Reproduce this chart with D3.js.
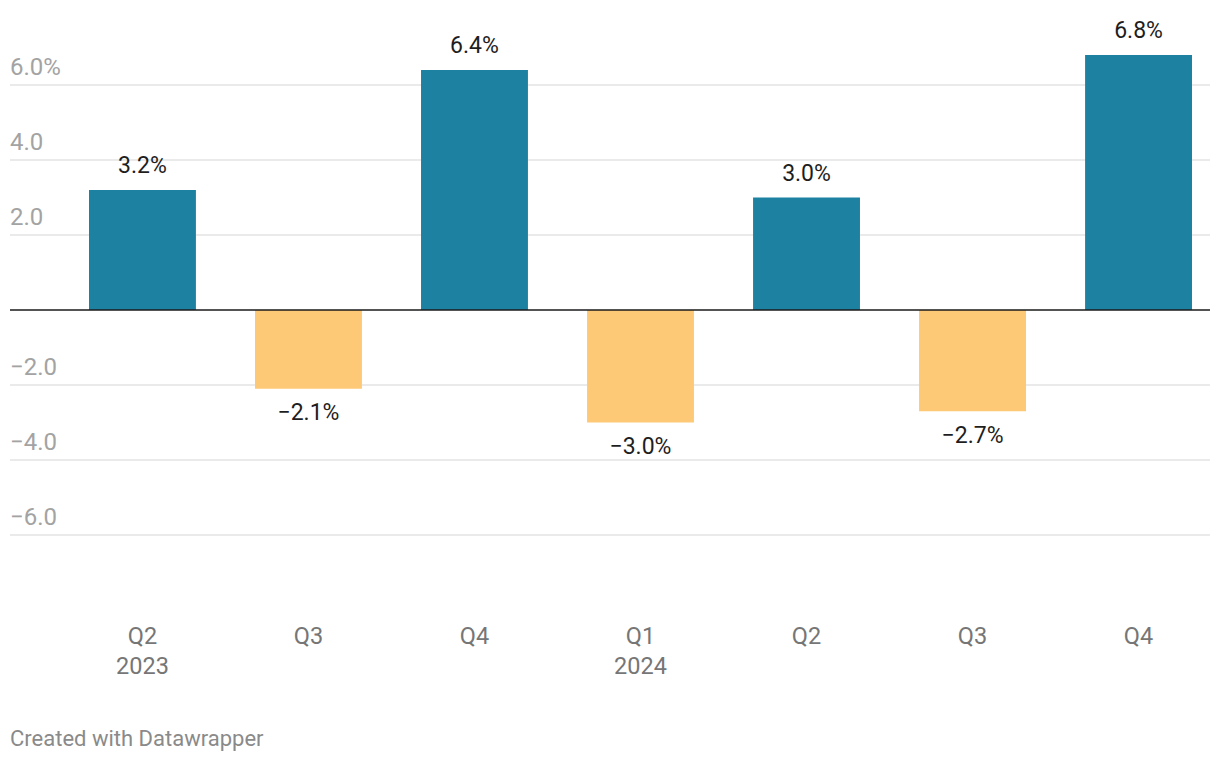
<!DOCTYPE html>
<html>
<head>
<meta charset="utf-8">
<script src="https://cdn.jsdelivr.net/npm/d3@7/dist/d3.min.js"></script>
<style>
  html, body { margin: 0; padding: 0; background: #fff; }
  svg { display: block; font-family: Roboto, "Noto Sans", sans-serif; }
</style>
</head>
<body>
<svg id="chart" width="1220" height="762"></svg>
<script>
const categories = ["Q2 2023", "Q3 2023", "Q4 2023", "Q1 2024", "Q2 2024", "Q3 2024", "Q4 2024"];
const quarterLabels = ["Q2", "Q3", "Q4", "Q1", "Q2", "Q3", "Q4"];
const yearLabels = ["2023", "", "", "2024", "", "", ""];
const values = [3.2, -2.1, 6.4, -3.0, 3.0, -2.7, 6.8];
const yTicks = [-6, -4, -2, 2, 4, 6];
const yTickLabels = ["−6.0", "−4.0", "−2.0", "2.0", "4.0", "6.0%"];

const svg = d3.select("#chart");

const y = d3.scaleLinear().domain([-6, 6]).range([535, 85]);
const x = d3.scaleBand().domain(categories).range([89, 1192]).paddingInner(0.356).paddingOuter(0);

const fmt = v => (v < 0 ? "−" : "") + Math.abs(v).toFixed(1) + "%";

// gridlines
const grid = svg.append("g");
grid.selectAll("line").data(yTicks).join("line")
  .attr("x1", 10).attr("x2", 1210)
  .attr("y1", d => y(d)).attr("y2", d => y(d))
  .attr("stroke", "#e3e3e3").attr("stroke-width", 1.3);
grid.selectAll("text").data(yTicks).join("text")
  .attr("x", 10).attr("y", d => y(d) - 10.5)
  .attr("fill", "#a3a3a3").attr("font-size", 24)
  .text((d, i) => yTickLabels[i]);

// bars
svg.append("g").selectAll("rect").data(values).join("rect")
  .attr("x", (d, i) => x(categories[i]))
  .attr("width", x.bandwidth())
  .attr("y", d => d >= 0 ? y(d) : y(0))
  .attr("height", d => Math.abs(y(d) - y(0)))
  .attr("fill", d => d >= 0 ? "#1d81a2" : "#fec976");

// zero line
svg.append("line")
  .attr("x1", 10).attr("x2", 1210)
  .attr("y1", y(0)).attr("y2", y(0))
  .attr("stroke", "#1a1a1a").attr("stroke-width", 1.5);

// value labels
svg.append("g").selectAll("text").data(values).join("text")
  .attr("x", (d, i) => x(categories[i]) + x.bandwidth() / 2)
  .attr("y", d => d >= 0 ? y(d) - 17 : y(d) + 31.5)
  .attr("text-anchor", "middle")
  .attr("fill", "#1e1e1e").attr("font-size", 23)
  .text(fmt);

// x labels
const xl = svg.append("g").selectAll("text").data(categories).join("text")
  .attr("text-anchor", "middle")
  .attr("fill", "#767676").attr("font-size", 23.5)
  .attr("x", d => x(d) + x.bandwidth() / 2);
xl.append("tspan").attr("x", d => x(d) + x.bandwidth() / 2).attr("y", 644).text((d, i) => quarterLabels[i]);
xl.append("tspan").attr("x", d => x(d) + x.bandwidth() / 2).attr("y", 674).text((d, i) => yearLabels[i]);

// footer
svg.append("text").attr("x", 10).attr("y", 746)
  .attr("fill", "#8a8a8a").attr("font-size", 22)
  .text("Created with Datawrapper");
</script>
</body>
</html>
